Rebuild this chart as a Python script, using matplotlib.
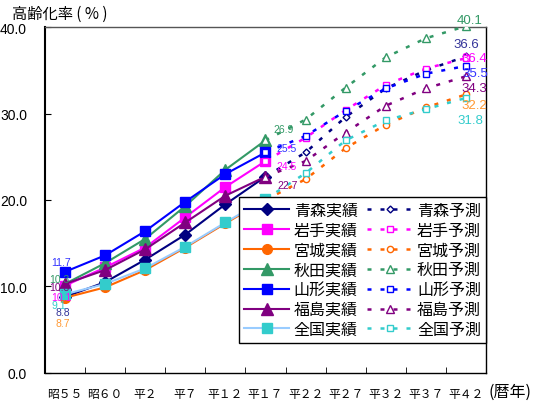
import matplotlib
matplotlib.use("Agg")
import matplotlib.pyplot as plt
from matplotlib.ticker import FixedLocator, FormatStrFormatter

plt.rcParams["font.family"] = ["Liberation Sans", "Noto Sans CJK JP"]

CATEGORIES = ["昭５５", "昭６０", "平２", "平７", "平１２", "平１７",
              "平２２", "平２７", "平３２", "平３７", "平４２"]

PREFS = ["青森", "岩手", "宮城", "秋田", "山形", "福島", "全国"]

# observed 昭55..平17
AOMORI_ACT = [8.8, 10.5, 13.1, 16.0, 19.5, 22.7]
IWATE_ACT = [10.1, 12.2, 14.5, 18.0, 21.5, 24.5]
MIYAGI_ACT = [8.7, 9.9, 11.9, 14.5, 17.3, 20.0]
AKITA_ACT = [10.3, 12.7, 15.5, 19.3, 23.5, 26.9]
YAMAGATA_ACT = [11.7, 13.6, 16.4, 19.8, 23.0, 25.5]
FUKUSHIMA_ACT = [10.3, 11.9, 14.3, 17.4, 20.5, 22.7]
NATIONAL_ACT = [9.1, 10.3, 12.1, 14.6, 17.4, 20.1]

# projected 平17..平42
AOMORI_PRED = [22.7, 25.5, 29.6, 32.9, 35.0, 36.6]
IWATE_PRED = [24.5, 27.2, 30.4, 33.3, 35.2, 36.4]
MIYAGI_PRED = [20.0, 22.4, 26.0, 28.7, 30.7, 32.2]
AKITA_PRED = [26.9, 29.3, 33.0, 36.5, 38.7, 40.1]
YAMAGATA_PRED = [25.5, 27.4, 30.3, 32.9, 34.6, 35.5]
FUKUSHIMA_PRED = [22.7, 24.5, 27.8, 30.9, 32.9, 34.3]
NATIONAL_PRED = [20.1, 23.1, 26.9, 29.2, 30.5, 31.8]

ACTUAL = [AOMORI_ACT, IWATE_ACT, MIYAGI_ACT, AKITA_ACT, YAMAGATA_ACT, FUKUSHIMA_ACT, NATIONAL_ACT]
PRED = [AOMORI_PRED, IWATE_PRED, MIYAGI_PRED, AKITA_PRED, YAMAGATA_PRED, FUKUSHIMA_PRED, NATIONAL_PRED]

COLORS = ["#000080", "#FF00FF", "#FF6600", "#339966", "#0000FF", "#800080", "#33CCCC"]
LINE_COLORS = ["#000080", "#FF00FF", "#FF6600", "#339966", "#0000FF", "#800080", "#99CCFF"]
LABEL_COLORS = ["#333399", "#FF00FF", "#FF9933", "#339966", "#3333FF", "#800080", "#33CCCC"]
MARKERS = ["D", "s", "o", "^", "s", "^", "s"]
MSIZE = [6, 7, 7, 8, 7, 8, 7]

# label offsets in pixels (dx, dy)
START_OFF = [(-2, -15), (-4, -11), (-2, -25), (-6, 5), (-4, 10), (-6, -3), (-6, -11)]
END_OFF = [(0, 12), (8, 0), (8, -10.5), (4, 6.5), (9, -7), (8, -12), (4, -22.5)]
MID_OFF = {3: (18, 11), 4: (21, 4), 1: (21, -4.5), 5: (22, -8.5)}

fig = plt.figure(figsize=(5.4, 4.02), dpi=100)
ax = fig.add_axes([0.0833, 0.0697, 0.8167, 0.8606])

x_act = list(range(6))
x_pred = list(range(5, 11))

handles_act = []
handles_pred = []
for i in range(7):
    (h1,) = ax.plot(x_act, ACTUAL[i], color=LINE_COLORS[i], lw=1.5, marker=MARKERS[i],
                    ms=MSIZE[i], mfc=COLORS[i], mec=COLORS[i], zorder=3)
    handles_act.append(h1)
for i in range(7):
    (h2,) = ax.plot(x_pred, PRED[i], color=COLORS[i], lw=1.8, ls=(0, (1.6, 3.6)),
                    marker=MARKERS[i], ms=MSIZE[i] - 2.5, mfc="white", mec=COLORS[i],
                    mew=1.0, zorder=4)
    handles_pred.append(h2)

for i in range(7):
    ax.annotate(f"{ACTUAL[i][0]:.1f}", (0, ACTUAL[i][0]), xytext=START_OFF[i],
                textcoords="offset pixels", ha="center", va="center",
                fontsize=7.5, color=LABEL_COLORS[i], zorder=5, annotation_clip=False)
    ax.annotate(f"{PRED[i][-1]:.1f}", (10, PRED[i][-1]), xytext=END_OFF[i],
                textcoords="offset pixels", ha="center", va="center",
                fontsize=9.5, color=LABEL_COLORS[i], zorder=5, annotation_clip=False)
for i, off in MID_OFF.items():
    ax.annotate(f"{ACTUAL[i][-1]:.1f}", (5, ACTUAL[i][-1]), xytext=off,
                textcoords="offset pixels", ha="center", va="center",
                fontsize=7.5, color=LABEL_COLORS[i], zorder=5, annotation_clip=False)

ax.set_xlim(-0.5, 10.5)
ax.set_ylim(0, 40)
ax.set_yticks([0, 10, 20, 30, 40])
ax.yaxis.set_major_formatter(FormatStrFormatter("%.1f"))
ax.tick_params(axis="y", direction="in", length=4, pad=13, labelsize=10)
ax.set_xticks(range(11))
ax.set_xticklabels(CATEGORIES, fontsize=8.5)
ax.tick_params(axis="x", which="major", length=0, pad=11)
ax.xaxis.set_minor_locator(FixedLocator([k + 0.5 for k in range(10)]))
ax.tick_params(axis="x", which="minor", direction="in", length=4)
for s in ax.spines.values():
    s.set_linewidth(1.0)
    s.set_color("black")
ax.spines["left"].set_linewidth(1.5)
ax.spines["top"].set_color("#555555")

leg = ax.legend(handles_act + handles_pred,
                [p + "実績" for p in PREFS] + [p + "予測" for p in PREFS],
                ncol=2, loc="upper right", bbox_to_anchor=(0.8994, 0.5075),
                bbox_transform=fig.transFigure, borderaxespad=0,
                prop={"family": "Noto Sans CJK JP", "size": 11.5},
                handlelength=2.8, handletextpad=0.3, columnspacing=0.6,
                labelspacing=0.18, borderpad=0.3, fancybox=False,
                framealpha=1, edgecolor="black")
leg.get_frame().set_linewidth(1.0)
leg.set_zorder(10)

fig.text(0.022, 0.965, "高齢化率 ( % )", fontsize=11, family=["Noto Sans CJK JP"],
         ha="left", va="center")
fig.text(0.904, 0.025, "(暦年)", fontsize=11.5, family=["Noto Sans CJK JP"],
         ha="left", va="center")

fig.savefig("out.png", dpi=100)
